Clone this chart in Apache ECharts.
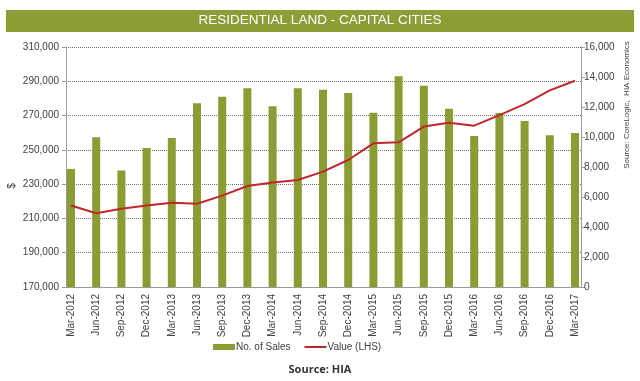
<!DOCTYPE html>
<html>
<head>
<meta charset="utf-8">
<script src="https://cdn.jsdelivr.net/npm/echarts@6/dist/echarts.min.js"></script>
<style>
html,body{margin:0;padding:0;background:#fff;}
#chart{width:640px;height:381px;}
</style>
</head>
<body>
<div id="chart"></div>
<script>
var categories = ['Mar-2012','Jun-2012','Sep-2012','Dec-2012','Mar-2013','Jun-2013','Sep-2013','Dec-2013','Mar-2014','Jun-2014','Sep-2014','Dec-2014','Mar-2015','Jun-2015','Sep-2015','Dec-2015','Mar-2016','Jun-2016','Sep-2016','Dec-2016','Mar-2017'];
var salesValues = [7870, 9980, 7770, 9270, 9930, 12250, 12680, 13250, 12050, 13250, 13150, 12930, 11620, 14050, 13410, 11890, 10070, 11600, 11070, 10110, 10270];
var landValues = [217500, 213000, 215700, 217600, 219100, 218600, 223300, 228900, 230900, 232400, 237300, 244100, 253800, 254400, 263600, 265800, 264100, 270300, 276700, 284700, 290300];
var leftTicks = {min: 170000, max: 310000, interval: 20000};
var rightTicks = {min: 0, max: 16000, interval: 2000};

var FONT = 'Liberation Sans, Arial, sans-serif';
var chart = echarts.init(document.getElementById('chart'), null, {renderer: 'canvas'});
function fmt(v){ return Number(v).toLocaleString('en-US'); }

var option = {
  backgroundColor: '#ffffff',
  animation: false,
  textStyle: {fontFamily: FONT},
  grid: [
    {left: 66, right: 59, top: 47, bottom: 94},
    {left: 71, right: 65, top: 47, bottom: 94}
  ],
  xAxis: [
    {gridIndex: 0, type: 'value', min: 0, max: 1,
     axisLine: {show: true, lineStyle: {color: '#9a9a9a', width: 1}},
     axisTick: {show: false}, axisLabel: {show: false}, splitLine: {show: false}},
    {gridIndex: 1, type: 'category', data: categories, boundaryGap: false,
     axisLine: {show: false}, axisTick: {show: false}, splitLine: {show: false},
     axisLabel: {rotate: 90, interval: 0, margin: 7, fontSize: 10, color: '#404040', fontFamily: FONT}}
  ],
  yAxis: [
    {gridIndex: 0, type: 'value', position: 'left', min: leftTicks.min, max: leftTicks.max, interval: leftTicks.interval,
     axisLine: {show: true, lineStyle: {color: '#9a9a9a'}},
     axisTick: {show: true, length: 4, lineStyle: {color: '#9a9a9a'}},
     axisLabel: {fontSize: 10, color: '#404040', margin: 7, formatter: fmt, fontFamily: FONT},
     splitLine: {show: true, lineStyle: {type: 'dotted', color: '#6f6f6f', width: 1}}},
    {gridIndex: 0, type: 'value', position: 'right', min: rightTicks.min, max: rightTicks.max, interval: rightTicks.interval,
     axisLine: {show: true, lineStyle: {color: '#9a9a9a'}},
     axisTick: {show: true, length: 4, lineStyle: {color: '#9a9a9a'}},
     axisLabel: {fontSize: 10, color: '#404040', margin: 3, formatter: fmt, fontFamily: FONT},
     splitLine: {show: false}},
    {gridIndex: 1, type: 'value', min: leftTicks.min, max: leftTicks.max, interval: leftTicks.interval, show: false, splitLine: {show: false}},
    {gridIndex: 1, type: 'value', min: rightTicks.min, max: rightTicks.max, interval: rightTicks.interval, show: false, splitLine: {show: false}}
  ],
  legend: {
    left: 208, top: 337,
    itemWidth: 22, itemHeight: 6, itemGap: 14,
    symbolKeepAspect: true,
    textStyle: {fontSize: 10, color: '#404040', fontFamily: FONT, padding: [0, 0, 0, -4]},
    data: [
      {name: 'No. of Sales', icon: 'rect'},
      {name: 'Value (LHS)', icon: 'path://M0,0 L22,0 L22,2 L0,2 Z'}
    ]
  },
  series: [
    {name: 'No. of Sales', type: 'bar', xAxisIndex: 1, yAxisIndex: 3, data: salesValues,
     barWidth: 8, itemStyle: {color: '#8b9c33'}},
    {name: 'Value (LHS)', type: 'line', xAxisIndex: 1, yAxisIndex: 2, data: landValues,
     symbol: 'none', lineStyle: {color: '#c0272d', width: 2}, itemStyle: {color: '#c0272d'}}
  ],
  graphic: [
    {type: 'rect', left: 6, top: 10, shape: {width: 628, height: 22}, style: {fill: '#8d9e36'}, z: 0},
    {type: 'text', left: 'center', top: 13, style: {text: 'RESIDENTIAL LAND - CAPITAL CITIES', fill: '#ffffff', font: '13.5px ' + FONT}, z: 1},
    {type: 'text', x: 12, y: 186, rotation: Math.PI / 2, style: {text: '$', fill: '#404040', font: '10px ' + FONT, textAlign: 'center', textVerticalAlign: 'middle'}},
    {type: 'text', x: 627, y: 105, rotation: Math.PI / 2, style: {text: 'Source: CoreLogic,  HIA Economics', fill: '#404040', font: '8px ' + FONT, textAlign: 'center', textVerticalAlign: 'middle'}},
    {type: 'text', x: 320, y: 370, style: {text: 'Source: HIA', fill: '#333333', font: 'bold 11px "Open Sans", sans-serif', textAlign: 'center', textVerticalAlign: 'middle'}}
  ]
};
chart.setOption(option);
</script>
</body>
</html>
